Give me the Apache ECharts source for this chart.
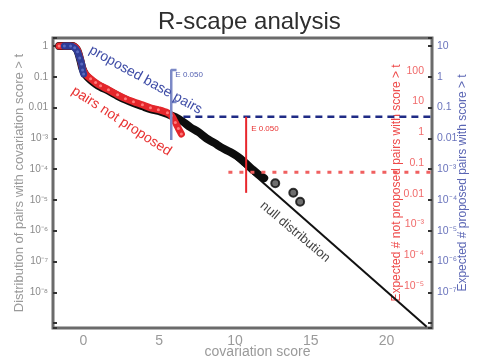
<!DOCTYPE html>
<html><head><meta charset="utf-8">
<script src="https://cdn.jsdelivr.net/npm/echarts@6/dist/echarts.min.js"></script>
<style>html,body{margin:0;padding:0;background:#fff}#c{width:477px;height:360px}</style>
</head><body><div id="c"></div>
<script>
// ---------- data ----------
const titleText = 'R-scape analysis';
const xName = 'covariation score';
const yNameLeft = 'Distribution of pairs with covariation score > t';
const yNameRed = 'Expected # not proposed pairs with score > t';
const yNameBlue = 'Expected # proposed pairs with score > t';

// all pairs (black band)
const allScore = [-1.6,-1.1,-0.7,-0.44,-0.31,-0.18,-0.05,0.15,0.48,0.81,1.14,1.66,2.26,2.78,3.31,3.9,4.43,4.95,5.55,6.07,6.53,7.06,7.59,8.12,8.64,9.16,9.69,10.22,10.68,11.14,11.53,11.93];
const allFrac  = [1,1,1,0.79,0.55,0.32,0.18,0.115,0.079,0.059,0.047,0.035,0.024,0.018,0.014,0.011,0.0089,0.0078,0.0062,0.0049,0.0036,0.0023,0.0016,0.0010,7.1e-4,4.9e-4,3.6e-4,2.5e-4,1.6e-4,1.0e-4,6.9e-5,5.1e-5];
// largest scores drawn as open circles
const tailScore = [12.66,13.85,14.3];
const tailFrac  = [3.5e-5,1.7e-5,8.7e-6];
// pairs not proposed (red)
const notPropScore = [-1.6,-1.3,-1.0,-0.7,-0.44,-0.31,-0.18,-0.05,0.15,0.48,0.81,1.14,1.66,2.26,2.78,3.31,3.9,4.43,4.95,5.55,5.81,6.07,6.27,6.47];
const notPropFrac  = [1,1,1,1,0.83,0.59,0.35,0.19,0.123,0.087,0.065,0.051,0.038,0.026,0.0195,0.0155,0.0123,0.0098,0.0085,0.0068,0.0055,0.0033,0.0021,0.00138];
// proposed base pairs (blue)
const propScore = [-1.25,-0.84,-0.57,-0.38,-0.24,-0.11,-0.05,0.02];
const propFrac  = [1,1,0.87,0.65,0.41,0.26,0.166,0.123];
// null distribution
const nullScore = [9,22.65];
const nullFrac  = [6.3e-4,7.6e-10];

// axes
const xMin = -2, xMax = 23;
const leftMinExp = -9.16, leftMaxExp = 0.26;
const blueFactor = 10;       // expected # proposed = fraction * factor
const redFactor = 631;       // expected # not proposed = fraction * factor
const eThreshold = 0.05;
const blueBarScore = 5.8, blueBarTop = 0.166, blueBarMid = 0.0152, blueBarBottom = 0.00089;
const redBarScore = 10.74, redBarBottom = 1.7e-5;
const blueDashStart = 6.6, redDashStart = 9.57;

// ---------- helpers ----------
const FONT = "'Liberation Sans', Arial, sans-serif";
const SUP = {'-':'\u207B','0':'\u2070','1':'\u00B9','2':'\u00B2','3':'\u00B3','4':'\u2074','5':'\u2075','6':'\u2076','7':'\u2077','8':'\u2078','9':'\u2079'};
function logLabel(minE, maxE) {
  return function (v) {
    const l = Math.log10(v), e = Math.round(l);
    if (Math.abs(l - e) > 1e-6 || e < minE || e > maxE) return '';
    if (e >= 0) return String(Math.round(Math.pow(10, e)));
    if (e === -1) return '0.1';
    if (e === -2) return '0.01';
    return '10' + String(e).split('').map(c => SUP[c]).join('');
  };
}
const zip = (a, b) => a.map((v, i) => [v, b[i]]);
const lMin = Math.pow(10, leftMinExp), lMax = Math.pow(10, leftMaxExp);

const chart = echarts.init(document.getElementById('c'), null, {renderer: 'canvas'});
const option = {
  animation: false,
  backgroundColor: '#fff',
  title: {
    text: titleText, left: 153, top: 5,
    textStyle: {fontFamily: FONT, fontSize: 24, fontWeight: 'normal', color: '#2e2e2e'}
  },
  grid: {left: 53, right: 45, top: 38, bottom: 32, containLabel: false, outerBoundsMode: 'none',
    show: true, borderColor: '#6b6b6b', borderWidth: 3, backgroundColor: '#fff'},
  xAxis: {
    type: 'value', min: xMin, max: xMax, splitNumber: 5,
    name: xName, nameLocation: 'middle', nameGap: 17, nameMoveOverlap: false,
    nameTextStyle: {fontFamily: FONT, fontSize: 14, color: '#9a9a9a', padding: [0, 0, 0, 30]},
    axisLine: {show: false, onZero: false}, axisTick: {show: false}, splitLine: {show: false},
    axisLabel: {fontFamily: FONT, fontSize: 14, color: '#9a9a9a', margin: 6,
      formatter: v => (v % 5 === 0 ? String(v) : '')}
  },
  yAxis: [
    {
      type: 'log', logBase: 10, min: lMin, max: lMax, position: 'left', splitNumber: 10,
      name: yNameLeft, nameLocation: 'middle', nameGap: 27, nameRotate: 90, nameMoveOverlap: false,
      nameTextStyle: {fontFamily: FONT, fontSize: 13, color: '#9a9a9a'},
      axisLine: {show: false, onZero: false}, splitLine: {show: false}, minorTick: {show: false},
      axisTick: {show: true, inside: true, length: 4, lineStyle: {color: '#333', width: 2}},
      axisLabel: {fontFamily: FONT, fontSize: 10, color: '#8a8a8a', margin: 5, formatter: logLabel(-8, 0)}
    },
    {
      type: 'log', logBase: 10, min: lMin * blueFactor, max: lMax * blueFactor, position: 'right', splitNumber: 10,
      name: yNameBlue, nameLocation: 'middle', nameGap: 25, nameRotate: 90, nameMoveOverlap: false,
      nameTextStyle: {fontFamily: FONT, fontSize: 12, color: '#5b66b4'},
      axisLine: {show: false, onZero: false}, splitLine: {show: false},
      axisTick: {show: true, inside: true, length: 4, lineStyle: {color: '#333', width: 2}},
      axisLabel: {fontFamily: FONT, fontSize: 10.5, color: '#6a74bc', margin: 5, formatter: logLabel(-7, 1)}
    },
    {
      type: 'log', logBase: 10, min: lMin * redFactor, max: lMax * redFactor, position: 'right', offset: 0, splitNumber: 10,
      name: yNameRed, nameLocation: 'middle', nameGap: -41, nameRotate: 90, nameMoveOverlap: false,
      nameTextStyle: {fontFamily: FONT, fontSize: 12, color: '#ee4a4a'},
      axisLine: {show: false, onZero: false}, splitLine: {show: false}, axisTick: {show: false},
      axisLabel: {inside: true, fontFamily: FONT, fontSize: 10.5, color: '#f06a6a', margin: 8, formatter: logLabel(-5, 2)}
    }
  ],
  series: [
    {type: 'line', name: 'null distribution', data: zip(nullScore, nullFrac), symbol: 'none',
      lineStyle: {color: '#111', width: 2}, z: 2},
    {type: 'line', name: 'all pairs', data: zip(allScore, allFrac), symbol: 'none', smooth: 0.3,
      lineStyle: {color: '#0d0d0d', width: 8, cap: 'round', join: 'round'}, z: 3},
    {type: 'scatter', name: 'tail', data: zip(tailScore, tailFrac), symbol: 'circle', symbolSize: 8,
      itemStyle: {color: '#4a4a4a', borderColor: '#0a0a0a', borderWidth: 2}, z: 3},
    {type: 'line', name: 'pairs not proposed', data: zip(notPropScore, notPropFrac), smooth: 0.3,
      symbol: 'circle', symbolSize: 3, showSymbol: true,
      itemStyle: {color: '#ff7b7b', borderWidth: 0},
      lineStyle: {color: '#e4262b', width: 7, cap: 'round', join: 'round'}, z: 4},
    {type: 'line', name: 'proposed base pairs', data: zip(propScore, propFrac), smooth: 0.3,
      symbol: 'circle', symbolSize: 3, showSymbol: true,
      itemStyle: {color: '#5a6ac0', borderWidth: 0},
      lineStyle: {color: '#2f3c96', width: 7, cap: 'round', join: 'round'}, z: 5},
    {type: 'line', name: 'blue threshold', yAxisIndex: 1, data: [[blueDashStart, eThreshold], [xMax, eThreshold]],
      symbol: 'none', lineStyle: {color: '#1f2b85', width: 2.5, type: [7, 5]}, z: 6},
    {type: 'line', name: 'red threshold', yAxisIndex: 2, data: [[redDashStart, eThreshold], [xMax, eThreshold]],
      symbol: 'none', lineStyle: {color: '#f06060', width: 3, type: [4, 7]}, z: 6},
    {type: 'line', name: 'blue E bar', data: [[blueBarScore + 0.35, blueBarTop], [blueBarScore, blueBarTop], [blueBarScore, blueBarBottom]],
      symbol: 'none', lineStyle: {color: '#7b89c6', width: 2.5}, z: 6},
    {type: 'line', name: 'blue E stub', data: [[blueBarScore, blueBarMid], [blueBarScore + 0.35, blueBarMid]],
      symbol: 'none', lineStyle: {color: '#7b89c6', width: 2.5}, z: 6},
    {type: 'line', name: 'red E bar', data: [[redBarScore, eThreshold / blueFactor], [redBarScore, redBarBottom]],
      symbol: 'none', lineStyle: {color: '#e8262c', width: 2}, z: 6}
  ]
};
chart.setOption(option);

// annotations placed through the chart's own coordinate conversion
const notes = [
  {text: 'proposed base pairs', at: [4.1, 0.079], rot: -29, color: '#3e4ca6', size: 14, align: 'center'},
  {text: 'pairs not proposed', at: [2.52, 0.0036], rot: -33, color: '#e83232', size: 14, align: 'center'},
  {text: 'null distribution', at: [13.97, 9.1e-7], rot: -40, color: '#444', size: 13, align: 'center'},
  {text: 'E 0.050', at: [6.07, 0.115], rot: 0, color: '#5562b2', size: 8, align: 'left'},
  {text: 'E 0.050', at: [11.07, 0.00204], rot: 0, color: '#e83232', size: 8, align: 'left'}
];
chart.setOption({
  graphic: notes.map(n => {
    const p = chart.convertToPixel({seriesIndex: 1}, n.at);
    return {type: 'text', x: p[0], y: p[1], rotation: n.rot * Math.PI / 180, z: 20,
      style: {text: n.text, fill: n.color, font: n.size + 'px ' + FONT, textAlign: n.align, textVerticalAlign: 'middle'}};
  })
});
</script></body></html>
